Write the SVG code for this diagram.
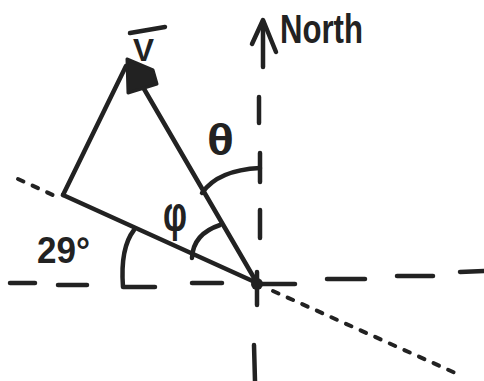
<svg xmlns="http://www.w3.org/2000/svg" width="484" height="381" viewBox="0 0 484 381">
<defs>
<style>
.ln{fill:none;stroke:#222;stroke-width:4.5;stroke-linecap:round;stroke-linejoin:round}
.dot{fill:none;stroke:#222;stroke-width:4;stroke-linecap:round;stroke-dasharray:6 10}
.lbl{font-family:"Liberation Sans",Arial,sans-serif;fill:#222;font-weight:bold}
</style>
</defs>
<rect width="484" height="381" fill="#fff"/>
<g id="connectors">
<g id="east-west-axis" class="ln">
<path d="M10 283 L35 283"/>
<path d="M58 285 L87 285"/>
<path d="M192 283 L222 283"/>
<path d="M257 284 L295 284"/>
<path d="M327 279 L365 279"/>
<path d="M397 276 L433 276"/>
<path d="M460 272 L484 271"/>
</g>
<g id="north-axis" class="ln">
<path d="M263 67 L263 21"/>
<path d="M252 44 L263 20 L276 52"/>
<path d="M259 97 L259 123"/>
<path d="M260 153 L260 182"/>
<path d="M260 210 L260 238"/>
<path d="M257 272 L257 305"/>
<path d="M254 345 L255 381"/>
</g>
<path class="dot" d="M18 179 L55 196"/>
<path class="dot" d="M273 291 L462 376"/>
<path class="ln" d="M63 195 L257 283"/>
<path class="ln" d="M63 195 L126 66"/>
<path class="ln" d="M257 283 L140 82"/>
<path d="M127 59 L128 93 L157 84 L153 70 Z" fill="#222" stroke="#222" stroke-width="3" stroke-linejoin="round"/>
<path class="ln" d="M202 193 Q218 170 260 168"/>
<path class="ln" d="M192 258 Q193 234 220 225"/>
<path class="ln" d="M134 230 Q120 248 123 287 L155 287"/>
<circle cx="257" cy="284" r="6" fill="#222"/>
</g>
<g id="label-v">
<path class="ln" d="M130 33 L165 27"/>
<text class="lbl" x="133" y="61" font-size="32" textLength="21" lengthAdjust="spacingAndGlyphs">V</text>
</g>
<g id="label-north">
<text class="lbl" x="280" y="43" font-size="40" textLength="83" lengthAdjust="spacingAndGlyphs">North</text>
</g>
<g id="label-theta">
<text class="lbl" x="207" y="155" font-size="44" font-weight="normal" textLength="27" lengthAdjust="spacingAndGlyphs">θ</text>
</g>
<g id="label-phi">
<text class="lbl" x="163" y="231" font-size="50" font-weight="normal" textLength="24" lengthAdjust="spacingAndGlyphs">φ</text>
</g>
<g id="label-29">
<text class="lbl" x="37" y="263" font-size="37" textLength="53" lengthAdjust="spacingAndGlyphs">29°</text>
</g>
</svg>
